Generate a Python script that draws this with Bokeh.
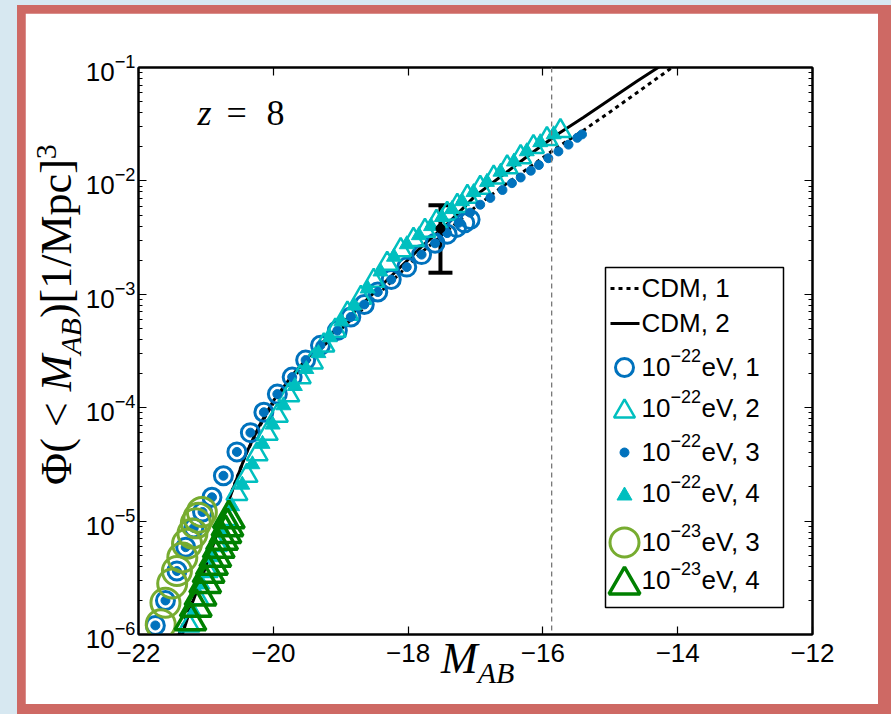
import numpy as np
from bokeh.plotting import figure
from bokeh.models import (Range1d, LinearAxis, LogAxis, FixedTicker, LogTicker,
                          Label, Whisker, TeeHead, Span, ColumnDataSource, GridBox, Div)
from bokeh.layouts import column
from bokeh.embed import file_html
from bokeh.resources import INLINE

# ---- cumulative UV luminosity functions at z = 8 (M_AB, log10 Phi) ----
cdm1_mag = [-21.40, -21.20, -21.00, -20.80, -20.60, -20.40, -20.20, -20.00, -19.70, -19.40,
            -19.00, -18.60, -18.20, -17.80, -17.40, -17.00, -16.60, -16.20, -15.80, -15.40,
            -15.00, -14.60, -14.20, -13.80]
cdm1_logphi = [-6.00, -5.70, -5.38, -5.04, -4.71, -4.40, -4.16, -3.96, -3.73, -3.54,
               -3.31, -3.09, -2.86, -2.63, -2.43, -2.23, -2.05, -1.88, -1.71, -1.555,
               -1.39, -1.22, -1.05, -0.88]

cdm2_mag = [-21.35, -21.20, -21.00, -20.80, -20.60, -20.40, -20.20, -20.00, -19.70, -19.40,
            -19.00, -18.60, -18.20, -17.80, -17.40, -17.00, -16.60, -16.20, -15.80, -15.40,
            -15.00, -14.60, -14.20, -13.90]
cdm2_logphi = [-6.00, -5.72, -5.40, -5.05, -4.72, -4.40, -4.15, -3.94, -3.70, -3.50,
               -3.27, -3.04, -2.81, -2.58, -2.37, -2.13, -1.95, -1.77, -1.595, -1.44,
               -1.28, -1.12, -0.965, -0.845]

# 1e-22 eV, run 1 (open circles)
s1_mag = [-21.75, -21.60, -21.43, -21.30, -21.18, -21.05, -20.91, -20.74, -20.54, -20.34,
          -20.14, -19.94, -19.72, -19.52, -19.30, -19.05, -18.85, -18.65, -18.45, -18.25,
          -18.02, -17.80, -17.60, -17.42, -17.28, -17.16, -17.08]
s1_logphi = [-5.92, -5.70, -5.44, -5.23, -5.06, -4.92, -4.79, -4.60, -4.39, -4.22,
             -4.04, -3.88, -3.73, -3.58, -3.45, -3.32, -3.20, -3.09, -2.98, -2.87,
             -2.76, -2.65, -2.55, -2.47, -2.41, -2.37, -2.34]

# 1e-22 eV, run 2 (open triangles)
s2_mag = [-21.25, -21.12, -20.98, -20.84, -20.69, -20.54, -20.39, -20.24, -20.09, -19.94,
          -19.77, -19.60, -19.42, -19.25, -19.08, -18.90, -18.70, -18.51, -18.31, -18.11,
          -17.92, -17.75, -17.58, -17.42, -17.27, -17.12, -16.93, -16.73, -16.53, -16.33,
          -16.14, -15.94, -15.74]
s2_logphi = [-5.92, -5.68, -5.44, -5.21, -4.98, -4.76, -4.60, -4.41, -4.23, -4.07,
             -3.89, -3.73, -3.60, -3.45, -3.32, -3.17, -3.03, -2.88, -2.73, -2.61,
             -2.52, -2.44, -2.36, -2.29, -2.22, -2.14, -2.06, -1.97, -1.88, -1.79,
             -1.70, -1.63, -1.56]

# 1e-22 eV, run 3 (small dots)
s3_mag = [-21.75, -21.60, -21.43, -21.30, -21.18, -21.05, -20.91, -20.74, -20.54, -20.34,
          -20.14, -19.94, -19.72, -19.52, -19.30, -19.05, -18.85, -18.65, -18.45, -18.25,
          -18.02, -17.80, -17.60, -17.42, -17.25, -17.08, -16.93, -16.78, -16.60, -16.46,
          -16.33, -16.18, -16.06, -15.92, -15.77, -15.62, -15.49, -15.42]
s3_logphi = [-5.92, -5.70, -5.44, -5.23, -5.06, -4.92, -4.79, -4.60, -4.39, -4.22,
             -4.04, -3.88, -3.73, -3.58, -3.45, -3.32, -3.20, -3.09, -2.98, -2.87,
             -2.76, -2.65, -2.55, -2.46, -2.37, -2.28, -2.21, -2.15, -2.08, -2.02,
             -1.97, -1.91, -1.86, -1.80, -1.74, -1.68, -1.62, -1.59]

# 1e-22 eV, run 4 (small filled triangles)
s4_mag = [-21.18, -21.05, -20.91, -20.76, -20.61, -20.46, -20.31, -20.16, -20.01, -19.85,
          -19.68, -19.51, -19.33, -19.16, -18.99, -18.80, -18.60, -18.41, -18.21, -18.02,
          -17.84, -17.66, -17.50, -17.35, -17.20, -17.03, -16.83, -16.63, -16.43, -16.24,
          -16.04, -15.84]
s4_logphi = [-5.80, -5.56, -5.32, -5.09, -4.87, -4.68, -4.50, -4.32, -4.15, -3.98,
             -3.81, -3.66, -3.52, -3.38, -3.24, -3.10, -2.95, -2.80, -2.67, -2.56,
             -2.48, -2.40, -2.32, -2.25, -2.18, -2.10, -2.01, -1.92, -1.83, -1.74,
             -1.66, -1.59]

# 1e-23 eV, run 3 (large open circles)
s5_mag = [-21.67, -21.60, -21.50, -21.43, -21.35, -21.28, -21.20, -21.15, -21.11, -21.06]
s5_logphi = [-5.91, -5.72, -5.55, -5.44, -5.32, -5.20, -5.11, -5.02, -4.97, -4.92]

# 1e-23 eV, run 4 (large open triangles)
s6_mag = [-21.23, -21.15, -21.08, -21.01, -20.96, -20.91, -20.86, -20.81, -20.76, -20.71,
          -20.68, -20.66]
s6_logphi = [-5.88, -5.76, -5.66, -5.55, -5.46, -5.39, -5.32, -5.24, -5.17, -5.11,
             -5.05, -4.98]

# observed cumulative density with its error bar
obs_mag = [-17.52]
obs_phi = [3.8e-3]
obs_lo = [1.55e-3]
obs_hi = [6.1e-3]

# survey magnitude limit
mag_limit = -15.87

x_ticks = [-22, -20, -18, -16, -14, -12]
x_tick_labels = ["\u221222", "\u221220", "\u221218", "\u221216", "\u221214", "\u221212"]

legend_cdm = ["CDM, 1", "CDM, 2"]
legend_mass_exp = ["\u221222", "\u221222", "\u221222", "\u221222", "\u221223", "\u221223"]
legend_run = ["eV, 1", "eV, 2", "eV, 3", "eV, 4", "eV, 3", "eV, 4"]

BLUE = "#0072BD"
CYAN = "#00BFBF"
LGREEN = "#77AC30"
DGREEN = "#008000"
SANS = "Liberation Sans"
SERIF = "Liberation Serif"

# marker styles shared by the plot and its key
STYLES = [
    dict(marker="circle", size=18, fill_color=None, line_color=BLUE, line_width=3),
    dict(marker="triangle", size=21, fill_color=None, line_color=CYAN, line_width=2.5),
    dict(marker="circle", size=9, fill_color=BLUE, line_color=BLUE, line_width=1),
    dict(marker="triangle", size=15, fill_color=CYAN, line_color=CYAN, line_width=1),
    dict(marker="circle", size=29, fill_color=None, line_color=LGREEN, line_width=3),
    dict(marker="triangle", size=31, fill_color=None, line_color=DGREEN, line_width=3.5),
]


def phi(vals):
    return [10.0 ** v for v in vals]


W, H = 853, 691          # white panel
OX, OY = 25, 13          # panel origin on the page
BL, BR, BT, BB = 113, 66, 54, 70   # borders around the plotting frame

p = figure(width=W, height=H, x_range=Range1d(-22, -12), y_range=Range1d(1e-6, 1e-1),
           y_axis_type="log", output_backend="svg", toolbar_location=None,
           min_border_left=BL, min_border_right=BR, min_border_top=BT, min_border_bottom=BB,
           background_fill_color="white", border_fill_color="white")
p.grid.visible = False
p.outline_line_color = "black"
p.outline_line_width = 2


def style_axis(ax, show_labels):
    ax.axis_line_width = 2
    ax.major_tick_in = 8
    ax.major_tick_out = 0
    ax.minor_tick_in = 4
    ax.minor_tick_out = 0
    ax.major_tick_line_width = 1.2
    ax.minor_tick_line_width = 1
    if show_labels:
        ax.major_label_text_font = SANS
        ax.major_label_text_font_size = "26px"
        ax.major_label_text_color = "black"
    else:
        ax.major_label_text_font_size = "1px"
        ax.major_label_text_color = None
        ax.major_label_standoff = 0


xb = p.xaxis[0]
xb.ticker = FixedTicker(ticks=x_ticks)
xb.major_label_overrides = {t: s for t, s in zip(x_ticks, x_tick_labels)}
style_axis(xb, True)
xb.minor_tick_line_color = None
xb.major_label_standoff = 9

yl = p.yaxis[0]
yl.ticker = LogTicker(num_minor_ticks=10)
style_axis(yl, True)
yl.major_label_standoff = 3

xt = LinearAxis(ticker=FixedTicker(ticks=x_ticks))
style_axis(xt, False)
xt.minor_tick_line_color = None
p.add_layout(xt, "above")

yr = LogAxis(ticker=LogTicker(num_minor_ticks=10))
style_axis(yr, False)
p.add_layout(yr, "right")

# model curves
p.line(cdm1_mag, phi(cdm1_logphi), line_color="black", line_width=3, line_dash="4 4")
p.line(cdm2_mag, phi(cdm2_logphi), line_color="black", line_width=3)

# simulation runs
for mags, logs, st in zip([s1_mag, s2_mag, s3_mag, s4_mag, s5_mag, s6_mag],
                          [s1_logphi, s2_logphi, s3_logphi, s4_logphi, s5_logphi, s6_logphi],
                          STYLES):
    p.scatter(mags, phi(logs), **st)

# observation with error bar
obs_src = ColumnDataSource(dict(x=obs_mag, y=obs_phi, lo=obs_lo, hi=obs_hi))
p.add_layout(Whisker(source=obs_src, base="x", lower="lo", upper="hi", dimension="height",
                     line_color="black", line_width=4,
                     lower_head=TeeHead(size=24, line_width=4, line_color="black"),
                     upper_head=TeeHead(size=24, line_width=4, line_color="black")))
p.scatter("x", "y", source=obs_src, marker="circle", size=9, color="black")

p.add_layout(Span(location=mag_limit, dimension="height", line_color="#777777",
                  line_width=1.3, line_dash="5 4"))

# ---- transparent layer over the frame for the key and the redshift tag (page pixels) ----
FX0, FX1 = OX + BL, OX + W - BR
FY0, FY1 = OY + BT, OY + H - BB
ov = figure(width=W, height=H, x_range=Range1d(FX0, FX1), y_range=Range1d(FY1, FY0),
            output_backend="svg", toolbar_location=None, x_axis_location=None,
            y_axis_location=None, min_border_left=BL, min_border_right=BR,
            min_border_top=BT, min_border_bottom=BB, background_fill_color=None,
            border_fill_color=None, outline_line_color=None)
ov.grid.visible = False


def text(px, py, s, size, style="normal", font=SERIF):
    ov.add_layout(Label(x=px, y=py, text=s, text_font=font, text_font_size=size,
                        text_font_style=style, text_align="left", text_baseline="alphabetic",
                        text_color="black"))


# redshift tag
text(197, 112, "z", "36px", "italic")
text(226, 112, "=", "36px")
text(266, 112, "8", "36px")

# key box
ov.quad(left=[605], right=[783], top=[267], bottom=[607], fill_color="white",
        line_color="black", line_width=1.5)
row_y = [288, 323, 367, 408, 452, 493, 542, 580]
kx0, kx1, kmid, tx = 610, 639, 624, 641
ov.line([kx0, kx1], [row_y[0], row_y[0]], line_color="black", line_width=3, line_dash="4 4")
ov.line([kx0, kx1], [row_y[1], row_y[1]], line_color="black", line_width=3)
for i, lab in enumerate(legend_cdm):
    text(tx, row_y[i] - 1, lab, "26px", font=SANS)
for j, st in enumerate(STYLES):
    yy = row_y[j + 2]
    off = st["size"] * 0.866 / 6 if st["marker"] == "triangle" else 0
    ov.scatter([kmid], [yy + off], **st)
    text(tx, yy - 1, "10", "26px", font=SANS)
    text(tx + 29, yy - 12, legend_mass_exp[j], "18px", font=SANS)
    text(tx + 60, yy - 1, legend_run[j], "26px", font=SANS)

# ---- axis titles set as HTML so that sub- and superscripts flow naturally ----
SUB = "font-size:30px;font-style:italic;vertical-align:-10px;line-height:0"
SUP = "font-size:30px;vertical-align:15px;line-height:0"
BASE = ("position:absolute;white-space:nowrap;font-family:'Liberation Serif';"
        "font-size:44px;line-height:44px;color:black;")
ylab = (f'<div style="{BASE}left:{42 - 37}px;top:{480 - OY}px;transform:rotate(-90deg);'
        f'transform-origin:0 0;">\u03a6(\u2005&lt;\u2005<i>M</i><span style="{SUB}">AB</span>)'
        f'[1/Mpc]<span style="{SUP}">3</span></div>')
xlab = (f'<div style="{BASE}left:{436 - OX}px;top:{669 - OY - 37}px;">'
        f'<i>M</i><span style="{SUB}">AB</span></div>')
labels = Div(text=f'<div style="position:relative;width:{W}px;height:{H}px;">{ylab}{xlab}</div>',
             width=W, height=H)

grid = GridBox(children=[(p, 0, 0), (ov, 0, 0), (labels, 0, 0)], margin=(8, 8, 8, 8))
frame_box = column(grid, styles={"background-color": "#ce6964"}, margin=(5, 5, 2, 17))
page = column(frame_box, styles={"background-color": "#d7e8f1"})

open("out.html", "w").write(file_html(page, INLINE))
